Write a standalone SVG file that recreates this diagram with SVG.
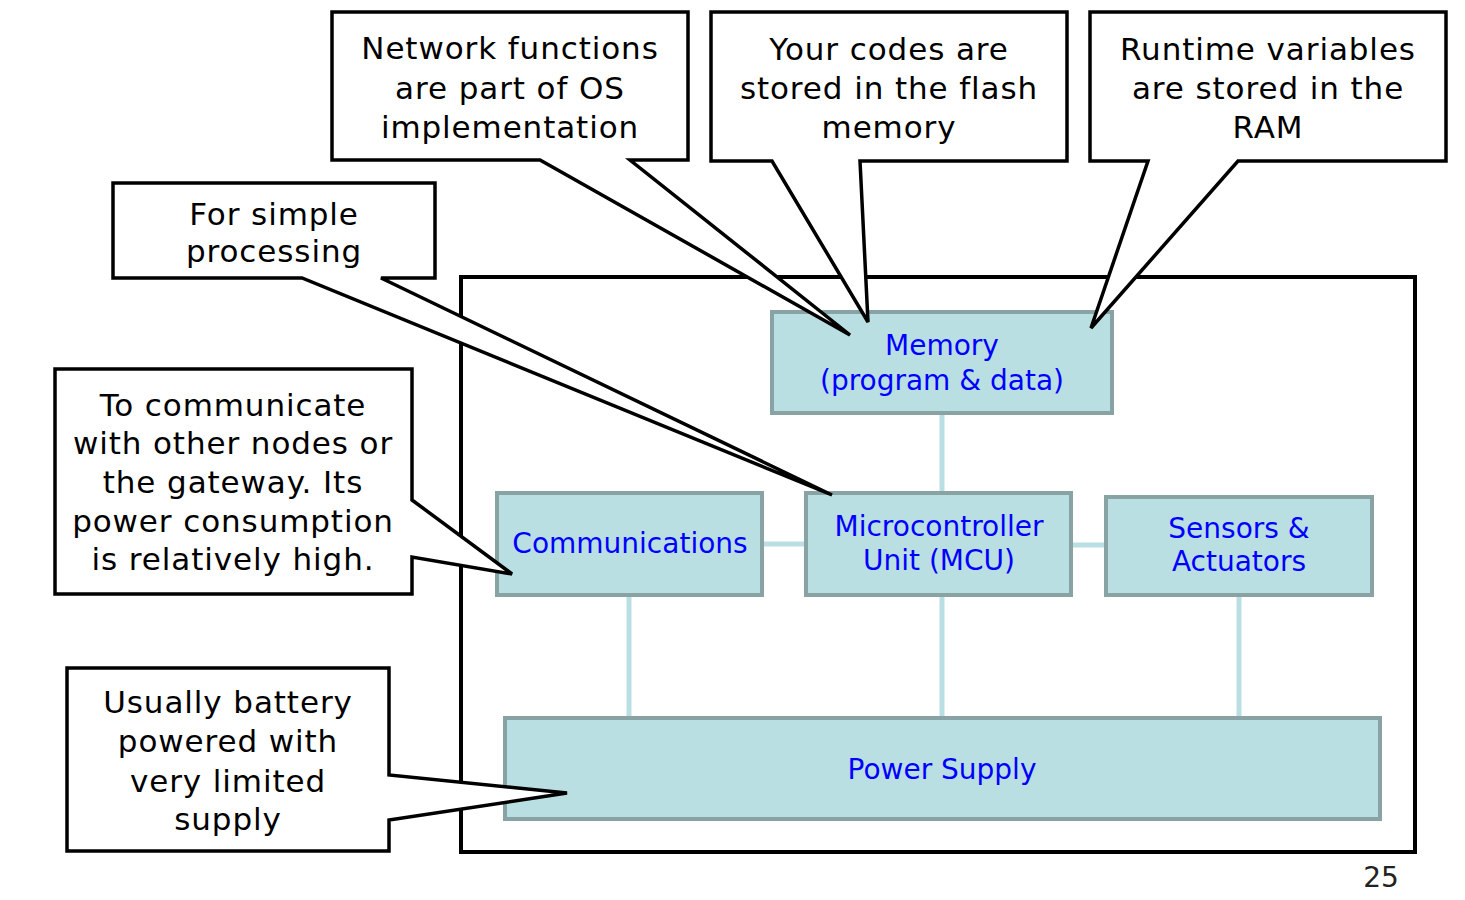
<svg xmlns="http://www.w3.org/2000/svg" width="1465" height="900" viewBox="0 0 1465 900">
<style>
.callout{fill:#ffffff;stroke:#000000;stroke-width:3.5;stroke-linejoin:miter;stroke-miterlimit:4}
.ct{font-family:"DejaVu Sans",Verdana,sans-serif;font-size:31px;letter-spacing:0.9px;fill:#000000;text-anchor:middle}
.box{fill:#b9dfe2;stroke:#89a3a5;stroke-width:4}
.bt{font-family:"DejaVu Sans",Verdana,sans-serif;font-size:28px;fill:#0000ff;text-anchor:middle}
.conn{stroke:#b9dfe2;stroke-width:5;fill:none}
</style>
<rect width="1465" height="900" fill="#ffffff"/>
<rect id="frame" x="461" y="277" width="954" height="575" fill="none" stroke="#000000" stroke-width="4"/>
<g id="connectors">
<line class="conn" x1="942" y1="415" x2="942" y2="491"/>
<line class="conn" x1="764" y1="544" x2="804" y2="544"/>
<line class="conn" x1="1073" y1="545" x2="1104" y2="545"/>
<line class="conn" x1="629" y1="597" x2="629" y2="716"/>
<line class="conn" x1="942" y1="597" x2="942" y2="716"/>
<line class="conn" x1="1239" y1="597" x2="1239" y2="716"/>
</g>
<g id="memory">
<rect class="box" x="772" y="312" width="340" height="101"/>
<text class="bt" x="942" y="355">Memory</text>
<text class="bt" x="942" y="390">(program &amp; data)</text>
</g>
<g id="communications">
<rect class="box" x="497" y="493" width="265" height="102"/>
<text class="bt" x="630" y="553">Communications</text>
</g>
<g id="mcu">
<rect class="box" x="806" y="493" width="265" height="102"/>
<text class="bt" x="939" y="536">Microcontroller</text>
<text class="bt" x="939" y="570">Unit (MCU)</text>
</g>
<g id="sensors">
<rect class="box" x="1106" y="497" width="266" height="98"/>
<text class="bt" x="1239" y="538">Sensors &amp;</text>
<text class="bt" x="1239" y="571">Actuators</text>
</g>
<g id="power">
<rect class="box" x="505" y="718" width="875" height="101"/>
<text class="bt" x="942" y="779">Power Supply</text>
</g>
<g id="callout-network">
<path class="callout" d="M332,12 H688 V160 H630 L850,335 L540,160 H332 Z"/>
<text class="ct" x="510" y="59">Network functions</text>
<text class="ct" x="510" y="99">are part of OS</text>
<text class="ct" x="510" y="138">implementation</text>
</g>
<g id="callout-codes">
<path class="callout" d="M711,12 H1067 V161 H860 L868,322 L772,161 H711 Z"/>
<text class="ct" x="889" y="60">Your codes are</text>
<text class="ct" x="889" y="99">stored in the flash</text>
<text class="ct" x="889" y="138">memory</text>
</g>
<g id="callout-runtime">
<path class="callout" d="M1090,12 H1446 V161 H1238 L1091,328 L1148,161 H1090 Z"/>
<text class="ct" x="1268" y="60">Runtime variables</text>
<text class="ct" x="1268" y="99">are stored in the</text>
<text class="ct" x="1268" y="138">RAM</text>
</g>
<g id="callout-processing">
<path class="callout" d="M113,183 H435 V278 H381 L832,495 L302,278 H113 Z"/>
<text class="ct" x="274" y="225">For simple</text>
<text class="ct" x="274" y="262">processing</text>
</g>
<g id="callout-comm">
<path class="callout" d="M55,369 H412 V500 L512,574 L412,557 V594 H55 Z"/>
<text class="ct" x="233" y="416">To communicate</text>
<text class="ct" x="233" y="454">with other nodes or</text>
<text class="ct" x="233" y="493">the gateway. Its</text>
<text class="ct" x="233" y="532">power consumption</text>
<text class="ct" x="233" y="570">is relatively high.</text>
</g>
<g id="callout-power">
<path class="callout" d="M67,668 H389 V775 L567,793 L389,820 V851 H67 Z"/>
<text class="ct" x="228" y="713">Usually battery</text>
<text class="ct" x="228" y="752">powered with</text>
<text class="ct" x="228" y="792">very limited</text>
<text class="ct" x="228" y="830">supply</text>
</g>
<text x="1381" y="887" font-family="DejaVu Sans, Verdana, sans-serif" font-size="28" fill="#222222" text-anchor="middle">25</text>
</svg>
